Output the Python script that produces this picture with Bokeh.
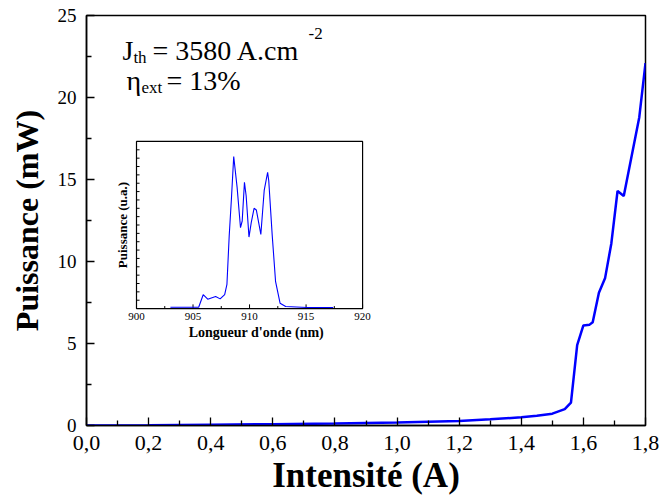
import math
from bokeh.plotting import figure
from bokeh.models import Range1d, FixedTicker, CustomJSTickFormatter
from bokeh.core.properties import value
from bokeh.embed import file_html
from bokeh.resources import INLINE

# ---- main curve: output power vs injected current ----
current_A = [0.0, 0.2, 0.4, 0.6, 0.8, 1.0, 1.2, 1.3, 1.4, 1.45, 1.5, 1.54, 1.56,
             1.58, 1.60, 1.62, 1.63, 1.65, 1.67, 1.69, 1.71, 1.73, 1.78, 1.80]
power_mW = [0.0, 0.02, 0.05, 0.08, 0.12, 0.18, 0.28, 0.38, 0.5, 0.6, 0.72, 1.0, 1.4,
            4.9, 6.1, 6.15, 6.3, 8.1, 9.0, 11.1, 14.3, 14.0, 18.8, 22.1]

x_ticks = [0.0, 0.2, 0.4, 0.6, 0.8, 1.0, 1.2, 1.4, 1.6, 1.8]
x_minor = [0.1, 0.3, 0.5, 0.7, 0.9, 1.1, 1.3, 1.5, 1.7]
y_ticks = [0, 5, 10, 15, 20, 25]
y_minor = [2.5, 7.5, 12.5, 17.5, 22.5]

# ---- inset: emission spectrum ----
wavelength_nm = [903.0, 905.5, 905.9, 906.3, 907.0, 907.4, 907.8, 908.0, 908.2, 908.4,
                 908.6, 908.9, 909.2, 909.35, 909.55, 909.7, 909.95, 910.15, 910.4,
                 910.6, 911.0, 911.3, 911.6, 911.7, 912.0, 912.3, 912.7, 913.2, 915.1, 917.4]
spectrum_au = [0.008, 0.008, 0.083, 0.056, 0.072, 0.058, 0.083, 0.145, 0.434, 0.66,
               0.91, 0.725, 0.484, 0.524, 0.755, 0.675, 0.428, 0.514, 0.60,
               0.59, 0.444, 0.709, 0.815, 0.765, 0.444, 0.163, 0.032, 0.012, 0.006, 0.006]
inset_x_ticks = [900, 905, 910, 915, 920]
inset_x_labels = ["900", "905", "910", "915", "920"]
inset_x_minor = [902.5, 907.5, 912.5, 917.5]
inset_y_ticks = [i * 0.05 for i in range(1, 20)]

SERIF = "Liberation Serif"

p = figure(width=659, height=497, output_backend="svg", toolbar_location=None,
           x_range=Range1d(0, 1.8), y_range=Range1d(0, 25),
           min_border_left=86, min_border_right=14, min_border_top=15, min_border_bottom=72)
p.grid.visible = False
p.outline_line_color = "black"
p.outline_line_width = 1.5
p.background_fill_color = "white"
p.border_fill_color = "white"

for ax in (p.xaxis[0], p.yaxis[0]):
    ax.axis_line_width = 1.5
    ax.axis_line_color = "black"
    ax.major_tick_in = 8
    ax.major_tick_out = 0
    ax.minor_tick_in = 5
    ax.minor_tick_out = 0
    ax.major_tick_line_width = 1.3
    ax.minor_tick_line_width = 1.3
    ax.major_label_text_font = SERIF
    ax.major_label_text_color = "black"
    ax.axis_label_text_font = SERIF
    ax.axis_label_text_font_style = "bold"
    ax.axis_label_text_color = "black"

p.xaxis.ticker = FixedTicker(ticks=x_ticks, minor_ticks=x_minor)
p.yaxis.ticker = FixedTicker(ticks=y_ticks, minor_ticks=y_minor)
p.xaxis.formatter = CustomJSTickFormatter(code="return tick.toFixed(1).replace('.', ',');")
p.xaxis.major_label_text_font_size = "22px"
p.yaxis.major_label_text_font_size = "19px"
p.xaxis.major_label_standoff = 10
p.yaxis.major_label_standoff = 10
p.xaxis.axis_label = "Intensité (A)"
p.yaxis.axis_label = "Puissance (mW)"
p.xaxis.axis_label_text_font_size = "35px"
p.yaxis.axis_label_text_font_size = "32px"
p.xaxis.axis_label_standoff = 3
p.yaxis.axis_label_standoff = 10

p.line(current_A, power_mW, line_color="#0000ff", line_width=2.5)

# annotation text
big = "28px"
small = "17px"
def txt(x, y, s, size):
    p.text(x=[x], y=[y], text=[s], text_font=value(SERIF), text_font_size=size,
           text_color="black", text_baseline="alphabetic", text_align="left")

txt(0.116, 22.86, "J", big)
txt(0.151, 22.43, "th", small)
txt(0.2125, 22.86, "= 3580 A.cm", big)
txt(0.715, 23.9, "-2", small)
txt(0.129, 21.03, "η", big)
txt(0.177, 20.6, "ext", small)
txt(0.2576, 21.03, "= 13%", big)

# ---- inset via sub-coordinates ----
sub = p.subplot(x_source=Range1d(900, 920), y_source=Range1d(0, 1),
                x_target=Range1d(0.161, 0.889), y_target=Range1d(7.13, 17.32))
sub.quad(left=[900], right=[920], bottom=[0], top=[1], fill_color="white",
         line_color="black", line_width=1.2)
sub.segment(x0=inset_x_ticks, y0=[0] * 5, x1=inset_x_ticks, y1=[0.025] * 5,
            line_color="black", line_width=1)
sub.segment(x0=inset_x_minor, y0=[0] * 4, x1=inset_x_minor, y1=[0.015] * 4,
            line_color="black", line_width=1)
sub.segment(x0=[900] * len(inset_y_ticks), y0=inset_y_ticks,
            x1=[900.27] * len(inset_y_ticks), y1=inset_y_ticks,
            line_color="black", line_width=1)
sub.line(wavelength_nm, spectrum_au, line_color="#0000ff", line_width=1.1)
sub.text(x=inset_x_ticks, y=[-0.025] * 5, text=inset_x_labels, text_font=value(SERIF),
         text_font_size="11px", text_color="black", text_align="center", text_baseline="top")
sub.text(x=[910.6], y=[-0.145], text=["Longueur d'onde (nm)"], text_font=value(SERIF),
         text_font_size="14px", text_font_style="bold", text_color="black",
         text_align="center", text_baseline="middle")
sub.text(x=[898.76], y=[0.5], text=["Puissance (u.a.)"], text_font=value(SERIF),
         text_font_size="13px", text_font_style="bold", text_color="black",
         text_align="center", text_baseline="middle", angle=math.pi / 2)

open("out.html", "w").write(file_html(p, INLINE))
